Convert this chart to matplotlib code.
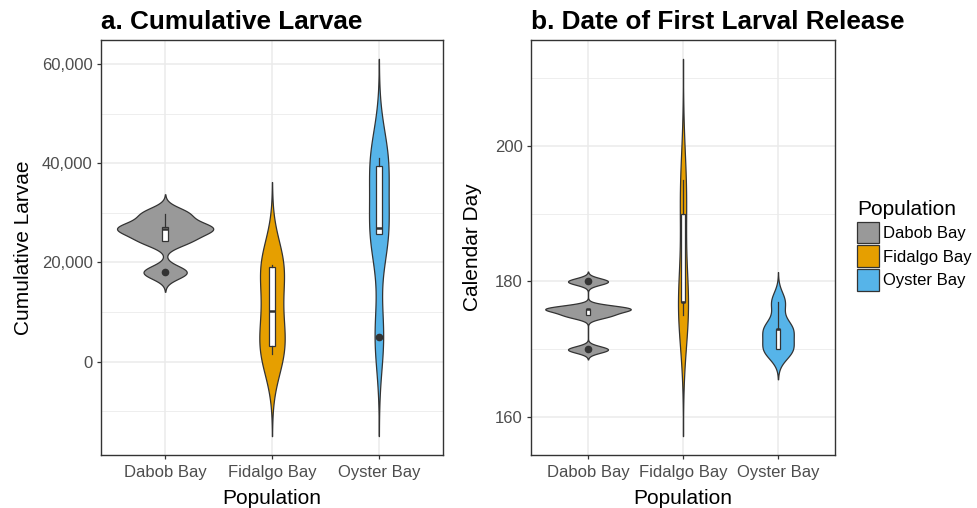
"""Violin plots of cumulative larvae and date of first larval release."""

import matplotlib
matplotlib.use("Agg")
import matplotlib.pyplot as plt
import numpy as np
from matplotlib.patches import Patch
from matplotlib.ticker import FuncFormatter, MultipleLocator

populations = ["Dabob Bay", "Fidalgo Bay", "Oyster Bay"]
pop_colors = ["#999999", "#E69F00", "#56B4E9"]

# cumulative larvae per family
larvae_dabob = [17990, 24370, 26730, 27050, 29810]
larvae_fidalgo = [1610, 3080, 10130, 19070, 19540]
larvae_oyster = [4970, 25640, 26850, 39330, 41030]

# calendar day of first larval release
day_dabob = [170, 175, 176, 176, 180]
day_fidalgo = [175, 177, 177, 190, 195]
day_oyster = [170, 170, 173, 173, 177]

larvae_ticks = [0, 20000, 40000, 60000]
day_ticks = [160, 180, 200]

plt.rcParams['font.family'] = ['Liberation Sans', 'DejaVu Sans']

EDGE = '#333333'


def _density(values):
    # gaussian kde, bw.nrd0, cut = 3 like ggplot's geom_violin(trim = FALSE)
    v = np.asarray(values, dtype=float)
    n = len(v)
    q75, q25 = np.percentile(v, [75, 25])
    bw = 0.9 * min(v.std(ddof=1), (q75 - q25) / 1.34) * n ** -0.2
    y = np.linspace(v.min() - 3 * bw, v.max() + 3 * bw, 512)
    z = (y[:, None] - v[None, :]) / bw
    dens = np.exp(-0.5 * z ** 2).sum(axis=1) / (n * bw * np.sqrt(2 * np.pi))
    return y, dens


def _panel(ax, groups, title, ylabel, ticks, minor, ylabelpad, fmt=None):
    curves = [_density(g) for g in groups]
    dmax = max(d.max() for _, d in curves)
    pos = np.arange(1, len(groups) + 1)
    for p, (y, d), c in zip(pos, curves, pop_colors):
        half = d / dmax * 0.45
        ax.fill_betweenx(y, p - half, p + half, facecolor=c, edgecolor=EDGE,
                         linewidth=0.9, zorder=2)

    ax.boxplot(groups, positions=pos, widths=0.05, patch_artist=True,
               showcaps=False, manage_ticks=False, zorder=3,
               boxprops=dict(facecolor='white', edgecolor=EDGE, linewidth=0.9),
               medianprops=dict(color=EDGE, linewidth=1.8),
               whiskerprops=dict(color=EDGE, linewidth=0.9),
               flierprops=dict(marker='o', markerfacecolor=EDGE,
                               markeredgecolor=EDGE, markersize=4.5))

    lo = min(y.min() for y, _ in curves)
    hi = max(y.max() for y, _ in curves)
    pad = 0.05 * (hi - lo)
    ax.set_ylim(lo - pad, hi + pad)
    ax.set_xlim(0.4, len(groups) + 0.6)

    ax.set_xticks(pos, populations)
    ax.set_yticks(ticks)
    ax.yaxis.set_minor_locator(MultipleLocator(minor))
    if fmt is not None:
        ax.yaxis.set_major_formatter(fmt)

    ax.set_axisbelow(True)
    ax.grid(which='major', color='#EBEBEB', linewidth=1.1)
    ax.grid(which='minor', axis='y', color='#EBEBEB', linewidth=0.6)
    for s in ax.spines.values():
        s.set_color(EDGE)
        s.set_linewidth(1.0)
    ax.tick_params(which='major', length=3, width=0.9, color=EDGE,
                   labelcolor='#4D4D4D', labelsize=12, pad=3)
    ax.tick_params(axis='x', which='major', pad=4.5)
    ax.tick_params(which='minor', length=0)

    ax.set_title(title, loc='left', fontsize=18.8, fontweight='bold', pad=8)
    ax.set_xlabel('Population', fontsize=15, labelpad=6.5)
    ax.set_ylabel(ylabel, fontsize=15, labelpad=ylabelpad)


def main():
    fig = plt.figure(figsize=(9.77, 5.08), dpi=100)
    ax1 = fig.add_axes([101 / 977, 53 / 508, 342 / 977, 415 / 508])
    ax2 = fig.add_axes([531 / 977, 53 / 508, 304 / 977, 415 / 508])

    _panel(ax1, [larvae_dabob, larvae_fidalgo, larvae_oyster],
           'a. Cumulative Larvae', 'Cumulative Larvae', larvae_ticks, 10000,
           6.5, FuncFormatter(lambda v, _: '{:,.0f}'.format(v)))
    _panel(ax2, [day_dabob, day_fidalgo, day_oyster],
           'b. Date of First Larval Release', 'Calendar Day', day_ticks, 10,
           9)

    handles = [Patch(facecolor=c, edgecolor=EDGE, linewidth=0.9, label=p)
               for p, c in zip(populations, pop_colors)]
    fig.legend(handles=handles, title='Population', loc='upper left',
               bbox_to_anchor=(857 / 977, 1 - 200 / 508), frameon=False,
               fontsize=12, title_fontsize=15, handlelength=1.3,
               handleheight=1.6, handletextpad=0.25, labelspacing=0.15,
               alignment='left', borderpad=0, borderaxespad=0)

    fig.savefig('out.png', dpi=100)


if __name__ == "__main__":
    main()
